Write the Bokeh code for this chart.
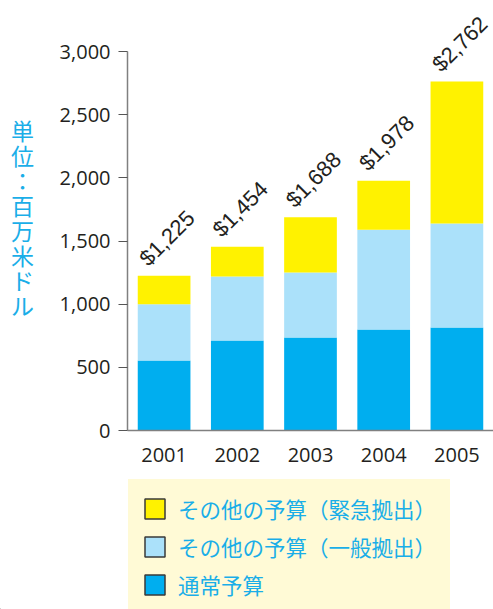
import math
from bokeh.plotting import figure
from bokeh.layouts import row, column
from bokeh.models import (ColumnDataSource, Range1d, FixedTicker, NumeralTickFormatter,
                          Legend, LegendItem, Label)
from bokeh.core.properties import value
from bokeh.embed import file_html
from bokeh.resources import INLINE

# ---- data ----
years = ["2001", "2002", "2003", "2004", "2005"]
regular = [555, 712, 736, 800, 815]          # 通常予算
general = [445, 507, 515, 789, 824]          # その他の予算（一般拠出）
emergency = [225, 235, 437, 389, 1123]       # その他の予算（緊急拠出）
y_ticks = [0, 500, 1000, 1500, 2000, 2500, 3000]
series_names = ["通常予算", "その他の予算（一般拠出）", "その他の予算（緊急拠出）"]
y_title = "単位：百万米ドル"

colors = ["#00aeef", "#abe1fa", "#fff200"]
text_dark = "#231f20"
cyan_text = "#1aaee8"
legend_bg = "#fffad6"

totals = [a + b + c for a, b, c in zip(regular, general, emergency)]
labels = ["${:,}".format(t) for t in totals]

src = ColumnDataSource(data=dict(year=years, regular=regular, general=general,
                                 emergency=emergency, total=totals, label=labels))

TOP_H = 478

# ---- y title figure (left strip) ----
tfig = figure(width=45, height=TOP_H, x_range=Range1d(0, 45), y_range=Range1d(0, TOP_H),
              x_axis_type=None, y_axis_type=None, output_backend="svg",
              toolbar_location=None, min_border=0)
tfig.outline_line_color = None
tfig.grid.visible = False
tfig.add_layout(Label(x=22, y=TOP_H - 241, text="\n".join(list(y_title)),
                      text_align="center", text_baseline="middle",
                      text_font="Noto Sans CJK JP", text_font_size="23px",
                      text_line_height=0.735, text_color=cyan_text))

# ---- main chart ----
p = figure(x_range=years, y_range=Range1d(0, 3404), width=448, height=TOP_H,
           output_backend="svg", toolbar_location=None,
           min_border_left=82, min_border_right=0, min_border_top=0, min_border_bottom=48)
p.outline_line_color = None
p.xgrid.grid_line_color = None
p.ygrid.grid_line_color = None

p.vbar_stack(["regular", "general", "emergency"], x="year", width=0.72,
             color=colors, line_color=None, source=src)

p.text(x="year", y="total", text="label", source=src, angle=math.pi / 4,
       x_offset=-12, y_offset=-5, text_align="left", text_baseline="bottom",
       text_font=value("Liberation Sans"), text_font_size="22px", text_color=text_dark)

ya = p.yaxis[0]
ya.bounds = (0, 3000)
ya.ticker = FixedTicker(ticks=y_ticks)
ya.formatter = NumeralTickFormatter(format="0,0")
ya.minor_tick_line_color = None
ya.major_tick_in = 0
ya.major_tick_out = 9
ya.major_label_standoff = 8
ya.axis_line_color = "#808080"
ya.axis_line_width = 1.5
ya.major_tick_line_color = "#555555"
ya.major_tick_line_width = 1.2
ya.major_label_text_font = "Open Sans"
ya.major_label_text_font_size = "20px"
ya.major_label_text_color = text_dark

xa = p.xaxis[0]
xa.major_tick_in = 0
xa.major_tick_out = 0
xa.minor_tick_line_color = None
xa.major_label_standoff = 17
xa.axis_line_color = "#808080"
xa.axis_line_width = 1.5
xa.major_label_text_font = "Open Sans"
xa.major_label_text_font_size = "20px"
xa.major_label_text_color = text_dark

# ---- legend strip ----
LEG_H = 609 - TOP_H
lfig = figure(width=493, height=LEG_H, x_range=Range1d(0, 493), y_range=Range1d(0, LEG_H),
              x_axis_type=None, y_axis_type=None, output_backend="svg",
              toolbar_location=None, min_border=0)
lfig.outline_line_color = None
lfig.grid.visible = False
# legend-only proxy renderers (placed outside the visible range)
leg_src = ColumnDataSource(data=dict(x=[-100], top=[-100]))
leg_rs = [lfig.vbar(x="x", top="top", width=1, source=leg_src, fill_color=c,
                    line_color="#3a3a3a", line_width=1.5) for c in colors]
items = [LegendItem(label=series_names[i], renderers=[leg_rs[i]], index=0) for i in (2, 1, 0)]
legend = Legend(items=items, location=(128, -5), orientation="vertical",
                glyph_width=25, glyph_height=25, label_standoff=11, padding=13,
                spacing=7, label_height=25, label_width=0,
                background_fill_color=legend_bg, background_fill_alpha=1.0,
                border_line_color=legend_bg, border_line_width=1, margin=0,
                label_text_font="Noto Sans CJK JP", label_text_font_size="21.5px",
                label_text_color=cyan_text, label_text_baseline="middle")
lfig.add_layout(legend, "center")

layout = column(row(tfig, p), lfig)
open("out.html", "w").write(file_html(layout, INLINE))
